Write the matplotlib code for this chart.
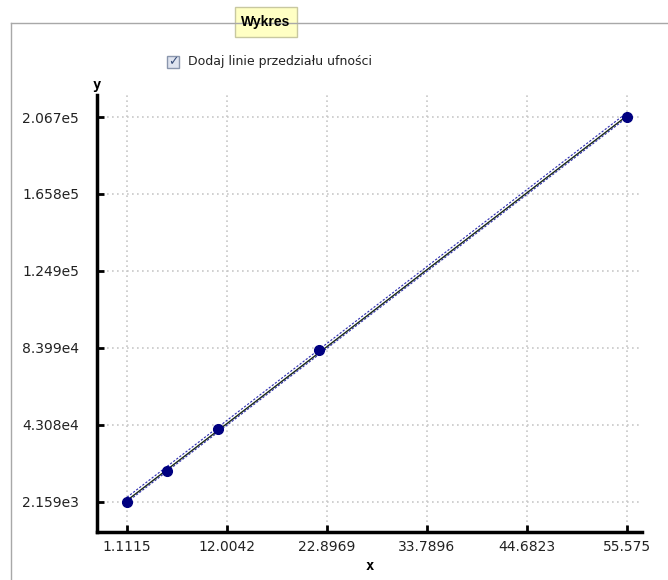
import numpy as np
import matplotlib
matplotlib.use("Agg")
from matplotlib import pyplot as plt
from matplotlib.patches import Rectangle

# data
x_vals = [1.1115, 5.47, 11.02, 22.03, 55.575]
y_vals = [2159, 18600, 40900, 82900, 206700]
x_ticks = [1.1115, 12.0042, 22.8969, 33.7896, 44.6823, 55.575]
x_tick_labels = ["1.1115", "12.0042", "22.8969", "33.7896", "44.6823", "55.575"]
y_ticks = [2159, 43080, 83990, 124900, 165800, 206700]
y_tick_labels = ["2.159e3", "4.308e4", "8.399e4", "1.249e5", "1.658e5", "2.067e5"]
# half width of the confidence band (upper, lower) in y units
ci_upper = 1700
ci_lower = 900


def main():
    W, H = 668, 580
    fig = plt.figure(figsize=(W / 100, H / 100), dpi=100)
    fig.patch.set_facecolor("white")

    def fx(px):
        return px / W

    def fy(py):
        return 1 - py / H

    # fieldset frame
    fig.add_artist(plt.Line2D([fx(11), fx(668)], [fy(23), fy(23)],
                              color="#a8a8a8", lw=1, transform=fig.transFigure))
    fig.add_artist(plt.Line2D([fx(11), fx(11)], [fy(23), fy(580)],
                              color="#a8a8a8", lw=1, transform=fig.transFigure))
    fig.add_artist(Rectangle((fx(235), fy(37)), fx(62), 30 / H, transform=fig.transFigure,
                             facecolor="#ffffc4", edgecolor="#c8c8a0", lw=1))
    fig.text(fx(266), fy(22), "Wykres", ha="center", va="center", fontsize=10,
             fontweight="bold", family="Liberation Sans")

    # checkbox
    fig.add_artist(Rectangle((fx(167), fy(68)), fx(12), 12 / H, transform=fig.transFigure,
                             facecolor="#dfe4ef", edgecolor="#8a96ad", lw=1))
    fig.text(fx(173), fy(62), "\u2713", ha="center", va="center", fontsize=9,
             color="#3a4f7a", family="DejaVu Sans", fontweight="bold")
    fig.text(fx(188), fy(62), "Dodaj linie przedziału ufności", ha="left", va="center",
             fontsize=9, family="DejaVu Sans", color="#222222")

    ax = fig.add_axes([fx(97), fy(532), fx(642 - 97), (532 - 95) / H])
    ax.set_xlim(1.1115 - 30 * 0.108927, 55.575 + 15 * 0.108927)
    ax.set_ylim(2159 - 30 * 531.3, 206700 + 22 * 531.3)

    xs = np.array(x_vals)
    ys = np.array(y_vals)
    k, b = np.polyfit(xs, ys, 1)
    line_x = np.array([xs.min(), xs.max()])
    line_y = k * line_x + b
    ax.plot(line_x, line_y + ci_upper, color="#2b2bb0", lw=0.8, ls=(0, (2, 1.5)), zorder=3)
    ax.plot(line_x, line_y - ci_lower, color="#2b2bb0", lw=0.8, ls=(0, (2, 1.5)), zorder=3)
    ax.plot(line_x, line_y, color="#1a2a1a", lw=1.0, zorder=3)
    ax.plot(xs, ys, "o", color="#000080", ms=7, zorder=4)

    ax.set_xticks(x_ticks)
    ax.set_xticklabels(x_tick_labels)
    ax.set_yticks(y_ticks)
    ax.set_yticklabels(y_tick_labels)
    ax.tick_params(direction="in", length=5, width=2, labelsize=10, colors="black")
    ax.tick_params(axis="y", pad=13)
    ax.tick_params(axis="x", pad=6)
    for lab in ax.get_xticklabels() + ax.get_yticklabels():
        lab.set_family("DejaVu Sans")
        lab.set_color("#222222")
    ax.grid(True, color="#c8c8c8", ls=(0, (1, 2)), lw=1.2)
    for side in ["top", "right"]:
        ax.spines[side].set_visible(False)
    for side in ["left", "bottom"]:
        ax.spines[side].set_linewidth(2.5)
    ax.set_facecolor("white")

    fig.text(fx(97), fy(85), "y", ha="center", va="center", fontsize=10,
             fontweight="bold", family="DejaVu Sans Mono")
    fig.text(fx(370), fy(566), "x", ha="center", va="center", fontsize=10,
             fontweight="bold", family="DejaVu Sans Mono")

    fig.savefig("out.png", dpi=100)


if __name__ == "__main__":
    main()
